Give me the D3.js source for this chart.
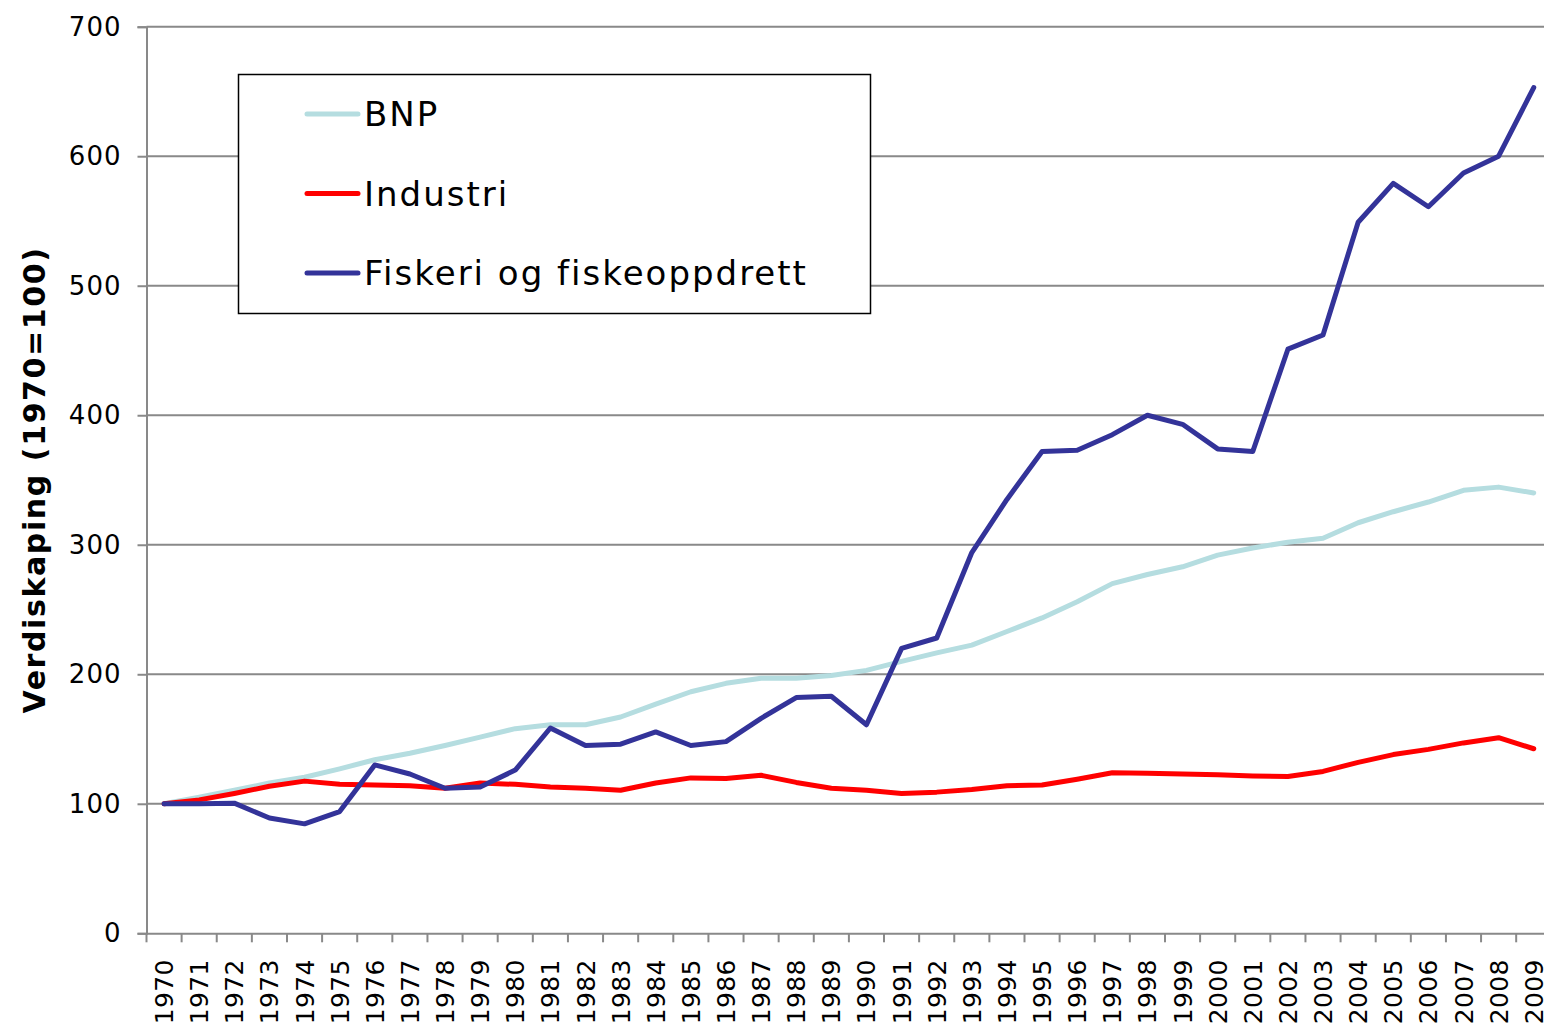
<!DOCTYPE html>
<html>
<head>
<meta charset="utf-8">
<script src="https://cdn.jsdelivr.net/npm/d3@7"></script>
<style>
  html, body { margin: 0; padding: 0; background: #fff; }
  svg { display: block; font-family: "DejaVu Sans", Verdana, sans-serif; }
</style>
</head>
<body>
<svg id="chart" width="1544" height="1026"></svg>
<script>
const years = ["1970","1971","1972","1973","1974","1975","1976","1977","1978","1979",
  "1980","1981","1982","1983","1984","1985","1986","1987","1988","1989",
  "1990","1991","1992","1993","1994","1995","1996","1997","1998","1999",
  "2000","2001","2002","2003","2004","2005","2006","2007","2008","2009"];

const bnp = [100,105,110.5,116,120.5,127,134,139,145,151.5,
  158,161,161,167,177,186.5,193,197,197,199,
  203,210,216.5,222.5,233,243.5,256,270,277,283,
  292,297.5,302,305,317,325.5,333,342,344.5,340];

const industri = [100,103,108,113.5,117.5,115,114.5,114,112,116,
  115,113,112,110.5,116,120,119.5,122,116.5,112,
  110.5,108,109,111,114,114.5,119,124,123.5,123,
  122.5,121.5,121,125,132,138,142,147,151,142.5];

const fiskeri = [100,100,100.5,89,84.5,94,130,123,112,113,
  126,158.5,145,146,155.5,145,148,166,182,183,
  161,220,228,294,335,372,373,385,400,393,
  374,372,451,462,549,579,561,587,600,653];

const yTicks = [0,100,200,300,400,500,600,700];

const seriesList = [
  { name: "BNP", values: bnp, color: "#b5dde0" },
  { name: "Industri", values: industri, color: "#ff0000" },
  { name: "Fiskeri og fiskeoppdrett", values: fiskeri, color: "#333399" }
];

const svg = d3.select("#chart");
const mLeft = 146.5, mTop = 26.7, mBottom = 933.3;
const step = 35.12;
const mRight = mLeft + step * years.length;

const x = d3.scaleBand().domain(years).range([mLeft, mRight]).paddingInner(0).paddingOuter(0);
const y = d3.scaleLinear().domain([0, 700]).range([mBottom, mTop]);

// gridlines
svg.append("g").selectAll("line").data(yTicks.filter(d => d > 0)).join("line")
  .attr("x1", mLeft).attr("x2", 1544)
  .attr("y1", d => y(d)).attr("y2", d => y(d))
  .attr("stroke", "#898989").attr("stroke-width", 2);

// y axis
const yAxis = svg.append("g").attr("transform", `translate(${mLeft},0)`)
  .call(d3.axisLeft(y).tickValues(yTicks).tickSize(9).tickPadding(16));
yAxis.select(".domain").attr("stroke", "#898989").attr("stroke-width", 2);
yAxis.selectAll(".tick line").attr("stroke", "#898989").attr("stroke-width", 2);
yAxis.selectAll(".tick text").attr("font-size", 26).attr("fill", "#000")
  .attr("letter-spacing", 1)
  .attr("font-family", "DejaVu Sans, Verdana, sans-serif");

// x axis
const xAxis = svg.append("g").attr("transform", `translate(0,${mBottom})`)
  .call(d3.axisBottom(x).tickSize(0).tickFormat(""));
xAxis.select(".domain").attr("stroke", "#898989").attr("stroke-width", 2);
// tick marks at band boundaries
svg.append("g").selectAll("line").data(years).join("line")
  .attr("x1", d => x(d)).attr("x2", d => x(d))
  .attr("y1", mBottom).attr("y2", mBottom + 9)
  .attr("stroke", "#898989").attr("stroke-width", 2);
// year labels
svg.append("g").selectAll("text").data(years).join("text")
  .attr("transform", d => `translate(${x(d) + x.bandwidth() / 2 + 9},${mBottom + 26}) rotate(-90)`)
  .attr("text-anchor", "end")
  .attr("font-size", 25)
  .attr("letter-spacing", 0.3)
  .attr("fill", "#000")
  .text(d => d);

// y title
svg.append("text")
  .attr("transform", `translate(45,480) rotate(-90)`)
  .attr("text-anchor", "middle")
  .attr("font-size", 30)
  .attr("font-weight", "bold")
  .attr("letter-spacing", 1.6)
  .attr("fill", "#000")
  .text("Verdiskaping (1970=100)");

// lines
const line = d3.line()
  .x((d, i) => x(years[i]) + x.bandwidth() / 2)
  .y(d => y(d));

svg.append("g").selectAll("path").data(seriesList).join("path")
  .attr("d", d => line(d.values))
  .attr("fill", "none")
  .attr("stroke", d => d.color)
  .attr("stroke-width", 5)
  .attr("stroke-linejoin", "round")
  .attr("stroke-linecap", "round");

// legend
const lg = svg.append("g");
lg.append("rect")
  .attr("x", 238.5).attr("y", 74.5).attr("width", 632).attr("height", 239)
  .attr("fill", "#fff").attr("stroke", "#000").attr("stroke-width", 1.5);
const items = lg.selectAll("g.item").data(seriesList).join("g")
  .attr("class", "item")
  .attr("transform", (d, i) => `translate(0,${114 + i * 79.5})`);
items.append("line")
  .attr("x1", 307).attr("x2", 358).attr("y1", 0).attr("y2", 0)
  .attr("stroke", d => d.color).attr("stroke-width", 5).attr("stroke-linecap", "round");
items.append("text")
  .attr("x", 364).attr("y", 0).attr("dy", "0.36em")
  .attr("font-size", 34)
  .attr("letter-spacing", 2)
  .attr("fill", "#000")
  .text(d => d.name);
</script>
</body>
</html>
